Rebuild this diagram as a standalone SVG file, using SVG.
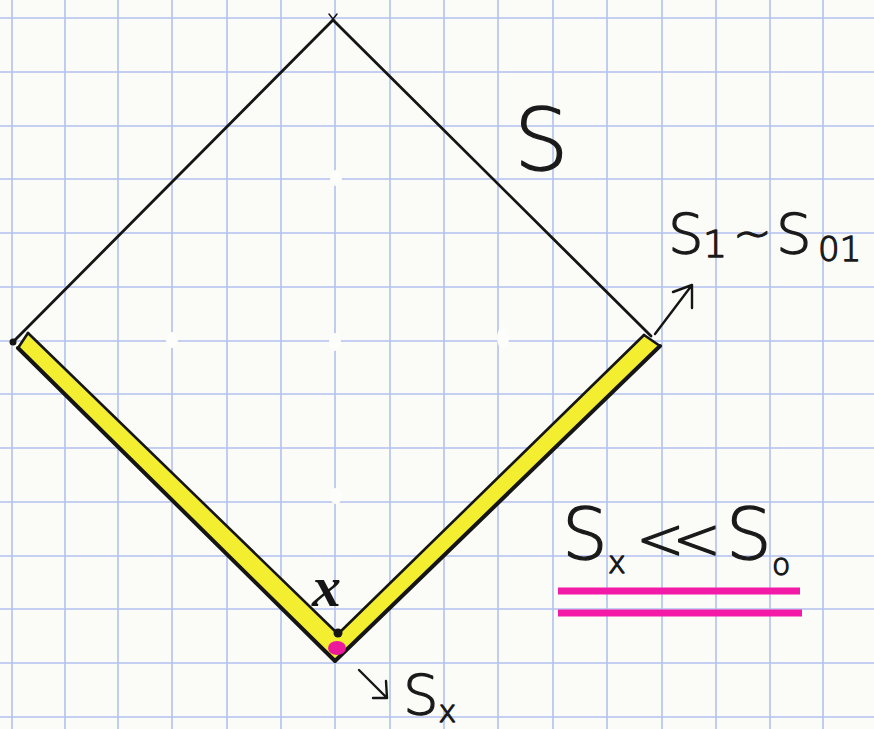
<svg xmlns="http://www.w3.org/2000/svg" width="874" height="729" viewBox="0 0 874 729">
<style>
.grid{stroke:#b2c1ee;stroke-width:1.6;fill:none}
.ink{stroke:#151515;fill:none;stroke-linecap:round;stroke-linejoin:round}
.hand{font-family:"DejaVu Sans","Liberation Sans",sans-serif;font-weight:300;fill:#1a1a1a;stroke:#1a1a1a;stroke-width:1.3;stroke-linejoin:round}
.pink{stroke:#f21aa6;stroke-width:7;fill:none}
.hole{fill:#fdfdfb}
</style>
<rect width="874" height="729" fill="#fbfbf8"/>
<g id="grid">
<path class="grid" d="M12 0V729M65 0V729M118 0V729M172 0V729M227 0V729M281 0V729M335 0V729M390 0V729M444 0V729M498 0V729M553 0V729M607 0V729M662 0V729M716 0V729M770 0V729M823 0V729"/>
<path class="grid" d="M0 18H874M0 72H874M0 126H874M0 179H874M0 233H874M0 287H874M0 341H874M0 394H874M0 448H874M0 502H874M0 556H874M0 609H874M0 663H874M0 717H874"/>
<ellipse class="hole" cx="336" cy="178" rx="6" ry="8"/>
<ellipse class="hole" cx="172" cy="340" rx="6" ry="8"/>
<ellipse class="hole" cx="335" cy="342" rx="6" ry="9"/>
<ellipse class="hole" cx="503" cy="338" rx="6" ry="11"/>
<ellipse class="hole" cx="336" cy="496" rx="6" ry="8"/>
</g>
<g id="diamond">
<polygon points="18,348 28,333 338,634 644,335 660,346 335,661" fill="#f3ee30"/>
<path class="ink" stroke-width="2.8" d="M13 342L333 20L651 336"/>
<path class="ink" stroke-width="1.5" d="M329 14L337 24M337 14L329 24"/>
<path class="ink" stroke-width="4" d="M18 348L335 661L660 346"/>
<path class="ink" stroke-width="2.6" d="M28 333L338 634L644 335"/>
<path class="ink" stroke-width="2.6" d="M18 348L28 333M644 335L660 346"/>
<circle cx="13" cy="342" r="3.5" fill="#151515"/>
<circle cx="338" cy="633" r="4.5" fill="#151515"/>
<ellipse cx="337" cy="648" rx="9" ry="7" fill="#ec1a9a"/>
</g>
<g id="connectors">
<path class="ink" stroke-width="2.4" d="M655 334L692 285M692 285L673 292M692 285L692 308"/>
<path class="ink" stroke-width="2.4" d="M359 670L387 698M387 698L373 698M387 698L386 681"/>
</g>
<g id="label-S">
<text class="hand" x="514" y="170" font-size="86">S</text>
</g>
<g id="label-S1">
<text class="hand" x="668" y="253" font-size="56">S<tspan font-size="38" dy="4" x="703">1</tspan><tspan font-size="46" dy="-8" x="733">~</tspan><tspan font-size="56" dy="4" x="776">S</tspan><tspan font-size="34" dy="8" x="818">01</tspan></text>
</g>
<g id="label-x">
<text x="312" y="606" font-family="Liberation Serif,serif" font-style="italic" font-weight="bold" font-size="58" fill="#151515">x</text>
</g>
<g id="label-Sx">
<text class="hand" x="403" y="714" font-size="56">S<tspan font-size="30" dy="8">x</tspan></text>
</g>
<g id="label-ineq">
<text class="hand" x="562" y="559" font-size="72">S<tspan font-size="30" x="608" dy="14">x</tspan><tspan font-size="58" x="636" dy="-14" letter-spacing="-12">&lt;&lt;</tspan><tspan font-size="72" x="726" dy="0">S</tspan><tspan font-size="30" x="772" dy="16">o</tspan></text>
<path class="pink" d="M558 591H800M558 613H802"/>
</g>
</svg>
